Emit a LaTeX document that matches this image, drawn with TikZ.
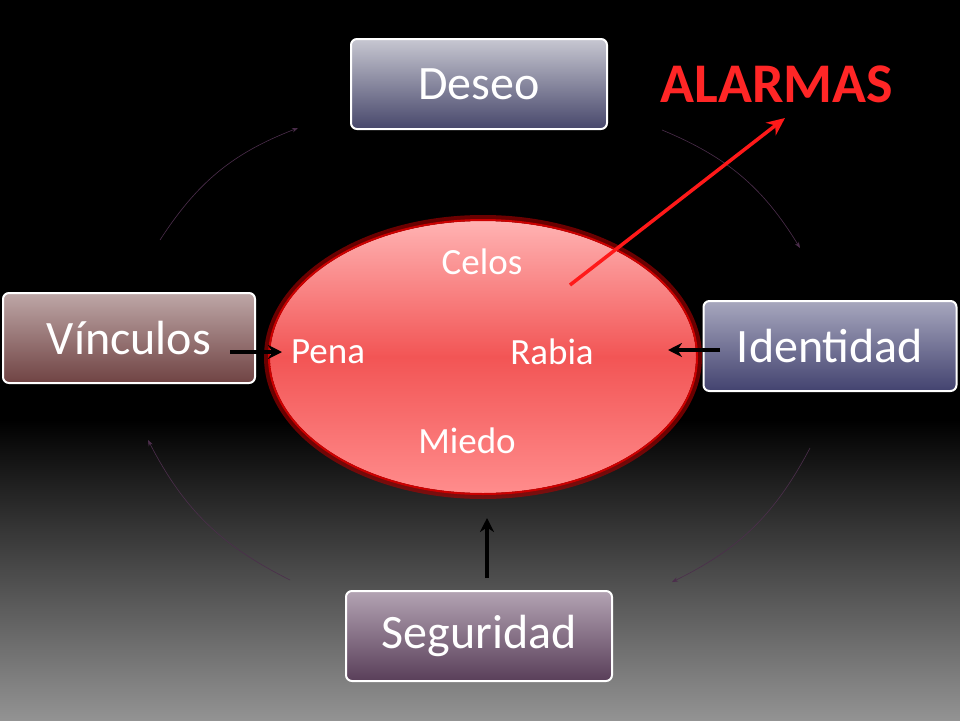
\documentclass[tikz,border=0pt]{standalone}
\usepackage{fontspec}
\setmainfont{Carlito}
\usetikzlibrary{arrows.meta,shadings}

\tikzset{
    box/.style={draw=white, line width=2pt, rounded corners=6pt, text=white,
                font=\fontsize{48}{52}\selectfont, anchor=center},
    feel/.style={text=white, font=\fontsize{37}{40}\selectfont},
    push/.style={-{Stealth[length=14pt,width=14pt]}, line width=3.5pt, black},
    cycle/.style={-{Stealth[length=6pt]}, line width=0.6pt, draw=violet!40!gray!60!black}
}

\begin{document}
\begin{tikzpicture}[x=1pt,y=-1pt]
    % background
    \useasboundingbox (0,0) rectangle (960,720);
    \fill[black] (0,0) rectangle (960,420);
    \shade[top color=black, bottom color=gray!85] (0,419) rectangle (960,720);

    % faint cycle
    \coordinate (c1) at (160,240); \coordinate (c2) at (298,128);
    \coordinate (c3) at (662,130); \coordinate (c4) at (800,248);
    \coordinate (c5) at (810,448); \coordinate (c6) at (672,582);
    \coordinate (c7) at (290,580); \coordinate (c8) at (148,440);
    \draw[cycle] (c1) to[bend left=18] (c2);
    \draw[cycle] (c3) to[bend left=18] (c4);
    \draw[cycle] (c5) to[bend left=18] (c6);
    \draw[cycle] (c7) to[bend left=18] (c8);

    % centre
    \draw[red!70!black, line width=8pt, opacity=0.6] (483,357) ellipse [x radius=215, y radius=138];
    \shade[top color=red!30!white, bottom color=red!45!white, middle color=red!65!white!95!black]
        (483,357) ellipse [x radius=213, y radius=136];
    \draw[red!80!black, line width=2pt] (483,357) ellipse [x radius=214, y radius=137];
    \node[feel] (celos) at (482,262) {Celos};
    \node[feel] (pena)  at (328,352) {Pena};
    \node[feel] (rabia) at (552,352) {Rabia};
    \node[feel] (miedo) at (467,441) {Miedo};

    % boxes
    \node[box, top color=blue!10!gray!40!white, bottom color=blue!20!gray!70!black,
          minimum width=256, minimum height=90] (deseo) at (479,84) {Deseo};
    \node[box, top color=red!15!gray!60, bottom color=red!25!gray!70!black,
          minimum width=252, minimum height=90] (vinculos) at (129,338) {Vínculos};
    \node[box, top color=blue!15!gray!60, bottom color=blue!25!gray!70!black,
          minimum width=253, minimum height=90] (identidad) at (830,346) {Identidad};
    \node[box, top color=violet!20!gray!60, bottom color=violet!30!gray!70!black,
          minimum width=266, minimum height=90] (seguridad) at (479,636) {Seguridad};

    % alarms
    \node[text=red!85!white, font=\fontsize{56}{60}\selectfont\bfseries] (alarmas) at (777,84) {ALARMAS};
    \coordinate (hot) at (570,285);
    \coordinate (up) at (785,118);
    \draw[-{Stealth[length=18pt,width=16pt]}, line width=3.5pt, red!90!white] (hot) -- (up);

    % pushes
    \coordinate (v0) at (230,352); \coordinate (v1) at (282,352);
    \coordinate (i0) at (720,350); \coordinate (i1) at (668,350);
    \coordinate (s0) at (487,578); \coordinate (s1) at (487,518);
    \draw[push] (v0) -- (v1);
    \draw[push] (i0) -- (i1);
    \draw[push] (s0) -- (s1);
\end{tikzpicture}
\end{document}
